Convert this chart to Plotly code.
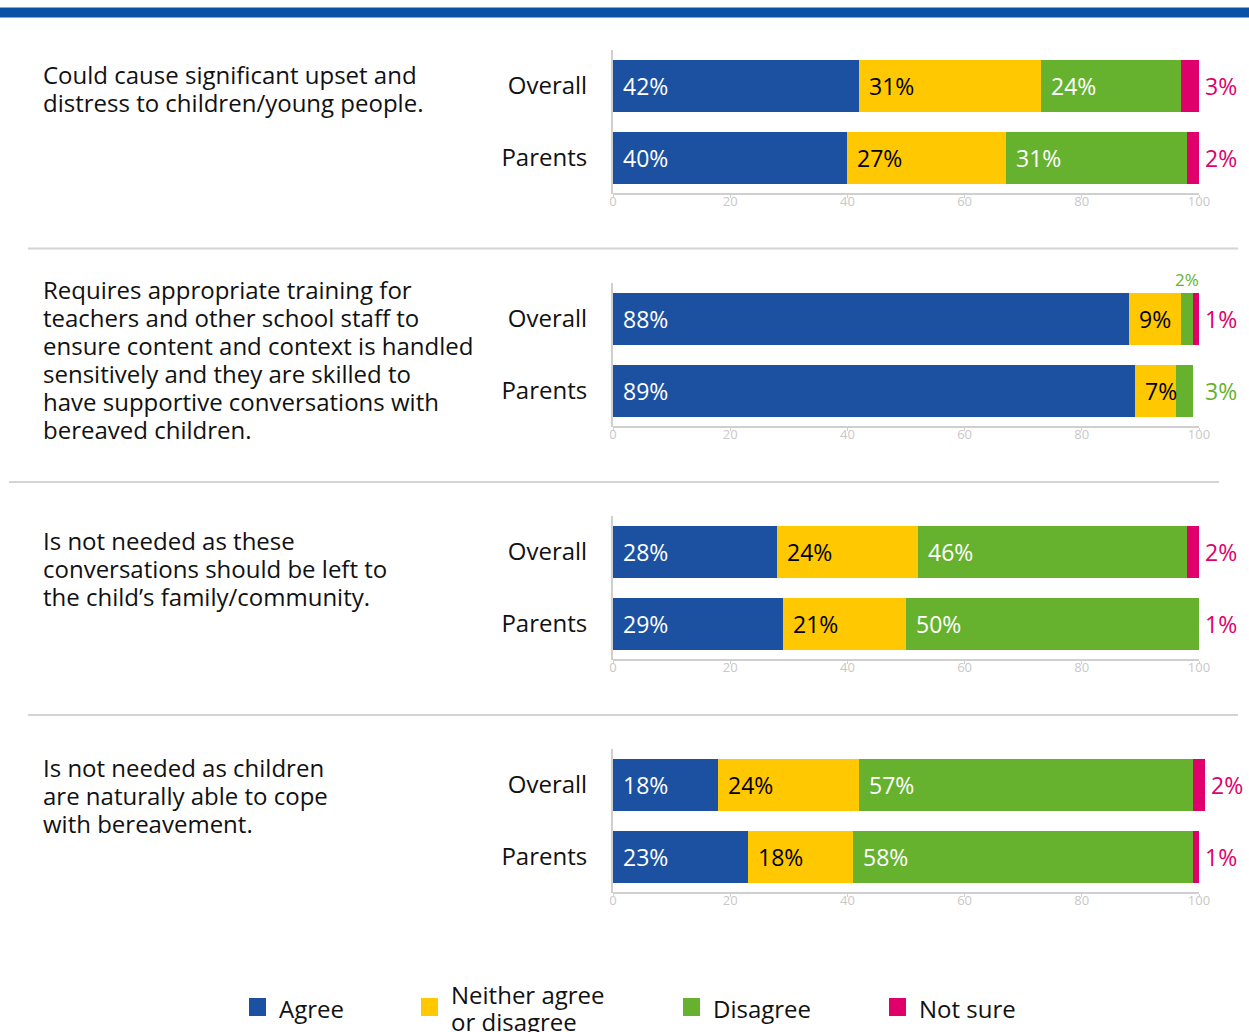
import plotly.graph_objects as go

# ---- data -------------------------------------------------------------
groups = ["Parents", "Overall"]          # bottom-to-top order in each panel
series_names = ["Agree", "Neither agree<br>or disagree", "Disagree", "Not sure"]
series_colors = ["#1b51a0", "#ffc800", "#66b22f", "#e0006b"]

agree_overall = [42, 88, 28, 18]
agree_parents = [40, 89, 29, 23]
neither_overall = [31, 9, 24, 24]
neither_parents = [27, 7, 21, 18]
disagree_overall = [24, 2, 46, 57]
disagree_parents = [31, 3, 50, 58]
notsure_overall = [3, 1, 2, 2]
notsure_parents = [2, 0, 1, 1]

questions = [
    ["Could cause significant upset and",
     "distress to children/young people."],
    ["Requires appropriate training for",
     "teachers and other school staff to",
     "ensure content and context is handled",
     "sensitively and they are skilled to",
     "have supportive conversations with",
     "bereaved children."],
    ["Is not needed as these",
     "conversations should be left to",
     "the child\u2019s family/community."],
    ["Is not needed as children",
     "are naturally able to cope",
     "with bereavement."],
]

x_ticks = [0, 20, 40, 60, 80, 100]
x_max = [100, 100, 100, 101.5]          # axis end per panel

# ---- layout geometry (pixels) ----------------------------------------
W, H = 1249, 1032
FONT = "Open Sans"
PX_PER_UNIT = 5.86                      # horizontal scale of every panel
X0 = 613                                # pixel of value 0
PANEL_TOP = [50, 283, 516, 749]
PANEL_H = 144
Q_FIRST_LINE = [74, 289, 540, 767]
Q_LINE_STEP = 28
LINE_SPACING = 1.3                      # plotly's multi-line spacing (em)


def px(v):
    return v / W


def py(v):
    return 1 - v / H


def block(lines, size, step, first_y, x, color="#111111"):
    """One multi-line text block; line pitch `step` px, glyphs at `size` px."""
    text = "<br>".join(f"<span style='font-size:{size}px'>{ln}</span>" for ln in lines)
    mid = first_y + step * (len(lines) - 1) / 2
    return dict(x=px(x), y=py(mid), xref="paper", yref="paper", text=text,
                showarrow=False, xanchor="left", yanchor="middle", align="left",
                font=dict(family=FONT, size=step / LINE_SPACING, color=color))


fig = go.Figure()
annotations = []
shapes = []

series_overall = [agree_overall, neither_overall, disagree_overall, notsure_overall]
series_parents = [agree_parents, neither_parents, disagree_parents, notsure_parents]

for p in range(4):
    ax = "" if p == 0 else str(p + 1)
    xa, ya = "x" + ax, "y" + ax
    rows = {"Overall": [s[p] for s in series_overall],
            "Parents": [s[p] for s in series_parents]}

    for k in range(4):
        fig.add_trace(go.Bar(
            orientation="h",
            y=groups,
            x=[rows[g][k] for g in groups],
            marker=dict(color=series_colors[k], line=dict(width=0)),
            width=0.73,
            name=series_names[k],
            showlegend=False,
            hoverinfo="skip",
            xaxis=xa, yaxis=ya,
        ))

    # value labels
    for g in groups:
        vals = rows[g]
        start = 0
        total = sum(vals)
        end_x = max(min(total, x_max[p]), 100)
        for k, v in enumerate(vals):
            if v <= 0:
                start += v
                continue
            txt = f"{v}%"
            if v >= 5:
                annotations.append(dict(
                    x=start, y=g, xref=xa, yref=ya, text=txt,
                    xanchor="left", yanchor="middle", xshift=8, showarrow=False,
                    font=dict(family=FONT, size=23, weight=500,
                              color="#000000" if k == 1 else "#ffffff")))
            elif k == len(vals) - 1 or all(w <= 0 for w in vals[k + 1:]):
                annotations.append(dict(
                    x=end_x, y=g, xref=xa, yref=ya, text=txt,
                    xanchor="left", yanchor="middle", xshift=4, showarrow=False,
                    font=dict(family=FONT, size=23, weight=500,
                              color=series_colors[k])))
            else:
                annotations.append(dict(
                    x=start + v / 2, y=g, xref=xa, yref=ya, text=txt,
                    xanchor="center", yanchor="middle", yshift=40, showarrow=False,
                    font=dict(family=FONT, size=17, weight=500,
                              color=series_colors[k])))
            start += v

    top, bot = PANEL_TOP[p], PANEL_TOP[p] + PANEL_H
    x_end = X0 + PX_PER_UNIT * x_max[p]
    fig.update_layout(**{
        "xaxis" + ax: dict(
            domain=[px(X0), px(x_end)], range=[0, x_max[p]], anchor=ya,
            tickvals=x_ticks, ticktext=[str(t) for t in x_ticks],
            tickfont=dict(family=FONT, size=13, color="#c8c8c8"),
            ticks="outside", ticklen=3, tickcolor="#cfcfcf",
            ticklabelstandoff=-8, automargin=False,
            showgrid=False, zeroline=False, showline=False, fixedrange=True),
        "yaxis" + ax: dict(
            domain=[py(bot), py(top)], range=[-0.5, 1.5], anchor=xa,
            type="category", categoryorder="array", categoryarray=groups,
            tickfont=dict(family=FONT, size=24, color="#111111"),
            ticks="", ticklabelstandoff=19, automargin=False,
            showgrid=False, zeroline=False,
            showline=True, linecolor="#cfcfcf", linewidth=2, fixedrange=True),
    })
    # x-axis baseline from 0 to 100
    shapes.append(dict(type="line", xref=xa, yref=ya + " domain",
                       x0=0, x1=100, y0=0, y1=0,
                       line=dict(color="#cfcfcf", width=2)))

    # question text
    annotations.append(block(questions[p], 24, Q_LINE_STEP, Q_FIRST_LINE[p] + 0.5, 41))

# separators between panels
for y, xa0, xa1 in [(248.5, 28, 1238), (482, 9, 1219), (715, 28, 1238)]:
    shapes.append(dict(type="line", xref="paper", yref="paper",
                       x0=px(xa0), x1=px(xa1), y0=py(y), y1=py(y),
                       line=dict(color="#d4d4d4", width=2)))

# header band
shapes.append(dict(type="rect", xref="paper", yref="paper",
                   x0=0, x1=1, y0=py(17.5), y1=py(7.5),
                   fillcolor="#0a52a5", line=dict(width=0)))

# legend
legend_x = [249, 421, 683, 889]
for k in range(4):
    shapes.append(dict(type="rect", xref="paper", yref="paper",
                       x0=px(legend_x[k]), x1=px(legend_x[k] + 17),
                       y0=py(1016), y1=py(998),
                       fillcolor=series_colors[k], line=dict(width=0)))
    lines = series_names[k].split("<br>")
    first_y = 1008 - 13.5 * (len(lines) - 1)
    annotations.append(block(lines, 24, 27, first_y, legend_x[k] + 28))

fig.update_layout(
    width=W, height=H, autosize=False,
    margin=dict(l=0, r=0, t=0, b=0, pad=0, autoexpand=False),
    paper_bgcolor="#ffffff", plot_bgcolor="#ffffff",
    barmode="stack", bargap=0,
    showlegend=False,
    annotations=annotations, shapes=shapes,
    font=dict(family=FONT),
)

fig.write_html(
    "out.html",
    config={"displayModeBar": False},
    post_script="document.body.style.margin='0';document.body.style.overflow='hidden';",
)
